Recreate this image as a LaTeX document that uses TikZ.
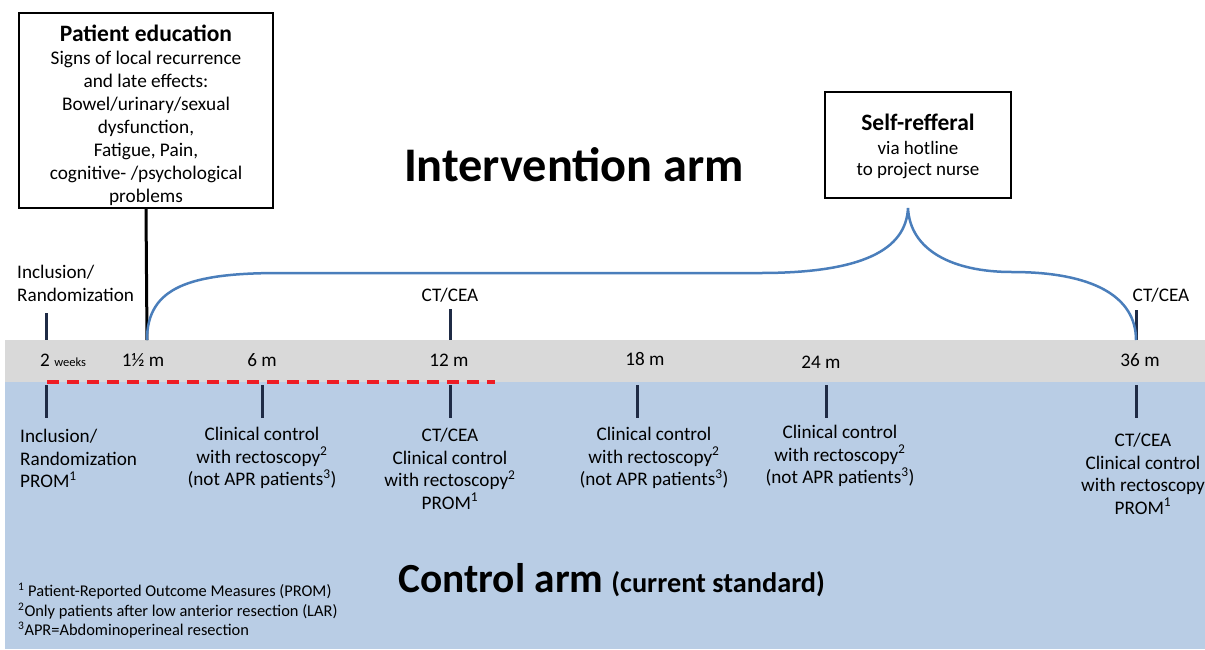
\documentclass[tikz,border=0pt]{standalone}
\usepackage{fontspec}
\setmainfont{Carlito}
\usetikzlibrary{calc}

\definecolor{bandgray}{HTML}{D9D9D9}
\definecolor{ctrlblue}{HTML}{B9CDE5}
\definecolor{tickblue}{HTML}{1F2B45}
\definecolor{braceblue}{HTML}{4A7EBB}
\definecolor{dashred}{HTML}{EE1C25}

\begin{document}
\begin{tikzpicture}[x=1pt,y=-1pt,
  tickline/.style={line width=3pt, draw=tickblue},
  txt/.style={inner sep=0pt, align=center, font=\fontsize{19.2}{22.5}\selectfont},
  infobox/.style={draw, line width=1.5pt, inner sep=0pt, align=center, font=\fontsize{19.3}{23}\selectfont}]
  \def\bandtop{340}
  \def\bandbot{382}
  \def\xa{46}
  \def\xb{147}
  \def\xc{262}
  \def\xd{450}
  \def\xe{637}
  \def\xf{826}
  \def\xg{1136}
  \def\lowtop{385}
  \def\lowbot{418}

  \useasboundingbox (0,0) rectangle (1205,649);
  \fill[bandgray] (5,\bandtop) rectangle (1205,\bandbot);
  \fill[ctrlblue] (5,\bandbot) rectangle (1205,649);
  \draw[dashred, line width=3.5pt, dash pattern=on 12pt off 8pt] (47,\bandbot) -- (495,\bandbot);

  \node[infobox, minimum width=254pt, minimum height=195pt] (edu) at (146,110.5)
    {\rule{0pt}{27pt}{\fontsize{23.5}{26}\selectfont\bfseries Patient education}\\Signs of local recurrence\\and late effects:\\Bowel/urinary/sexual\\dysfunction,\\Fatigue, Pain,\\cognitive- /psychological\\problems};
  \node[infobox, minimum width=186pt, minimum height=106pt, font=\fontsize{19}{21}\selectfont] (selfref) at (918,145)
    {\rule{0pt}{20pt}{\fontsize{23.5}{26}\selectfont\bfseries Self-refferal}\\[3pt]via hotline\\to project nurse};
  \node[inner sep=0pt, font=\fontsize{48.3}{56}\selectfont\bfseries] (intarm) at (574,165) {Intervention arm};
  \node[inner sep=0pt, anchor=base west, font=\bfseries] (ctrlarm) at (398,592)
    {{\fontsize{41.4}{48}\selectfont Control arm}\hspace{8pt}\fontsize{28.3}{32}\selectfont(current standard)};

  \node[txt, anchor=north west, align=left] (inclup) at (17,265) {Inclusion/\\Randomization};
  \node[txt, anchor=base] (ctmid) at (450,301) {CT/CEA};
  \node[txt, anchor=base] (ctend) at (1161,301) {CT/CEA};

  \node[txt, anchor=base west] (m0) at (40,366) {2 {\fontsize{12.5}{14}\selectfont weeks}};
  \node[txt, anchor=base] (m1) at (143,366) {1½ m};
  \node[txt, anchor=base] (m6) at (262,366) {6 m};
  \node[txt, anchor=base] (m12) at (449,366) {12 m};
  \node[txt, anchor=base] (m18) at (645,365) {18 m};
  \node[txt, anchor=base] (m24) at (821,368) {24 m};
  \node[txt, anchor=base] (m36) at (1140,366) {36 m};

  \draw[tickline] (\xa,313) -- (\xa,\bandtop);
  \draw[tickline] (\xd,309) -- (\xd,\bandtop);
  \draw[tickline] (\xg,310) -- (\xg,\bandtop);
  \draw[tickline] (\xa,\lowtop) -- (\xa,\lowbot);
  \draw[tickline] (\xc,\lowtop) -- (\xc,\lowbot);
  \draw[tickline] (\xd,\lowtop) -- (\xd,\lowbot);
  \draw[tickline] (\xe,\lowtop) -- (\xe,\lowbot);
  \draw[tickline] (\xf,\lowtop) -- (\xf,\lowbot);
  \draw[tickline] (\xg,\lowtop) -- (\xg,\lowbot);

  \coordinate (brL) at (\xb,\bandtop);
  \coordinate (brTip) at (908,208);
  \coordinate (brR) at (\xg,\bandtop);
  \draw[line width=3pt] (edu.south) -- (brL);
  \draw[braceblue, line width=2.5pt] (brL) .. controls (\xb,287) and (190,273) .. (280,273)
    -- (760,273) .. controls (862,273) and (906,250) .. (brTip)
    .. controls (910,250) and (952,272) .. (1012,272)
    .. controls (1092,272) and (\xg,296) .. (brR);

  \node[txt, anchor=north west, align=left] (incllow) at (20,429) {Inclusion/\\Randomization\\PROM\textsuperscript{1}};
  \node[txt, anchor=north] (c6) at (262,427) {Clinical control\\with rectoscopy\textsuperscript{2}\\(not APR patients\textsuperscript{3})};
  \node[txt, anchor=north] (c12) at (450,428) {CT/CEA\\Clinical control\\with rectoscopy\textsuperscript{2}\\PROM\textsuperscript{1}};
  \node[txt, anchor=north] (c18) at (654,427) {Clinical control\\with rectoscopy\textsuperscript{2}\\(not APR patients\textsuperscript{3})};
  \node[txt, anchor=north] (c24) at (840,425) {Clinical control\\with rectoscopy\textsuperscript{2}\\(not APR patients\textsuperscript{3})};
  \node[txt, anchor=north] (c36) at (1143,433) {CT/CEA\\Clinical control\\with rectoscopy\\PROM\textsuperscript{1}};

  \node[inner sep=0pt, anchor=north west, align=left, font=\fontsize{16.4}{19.5}\selectfont] (notes) at (18,583)
    {\textsuperscript{1} Patient-Reported Outcome Measures (PROM)\\\textsuperscript{2}Only patients after low anterior resection (LAR)\\\textsuperscript{3}APR=Abdominoperineal resection};
\end{tikzpicture}
\end{document}
